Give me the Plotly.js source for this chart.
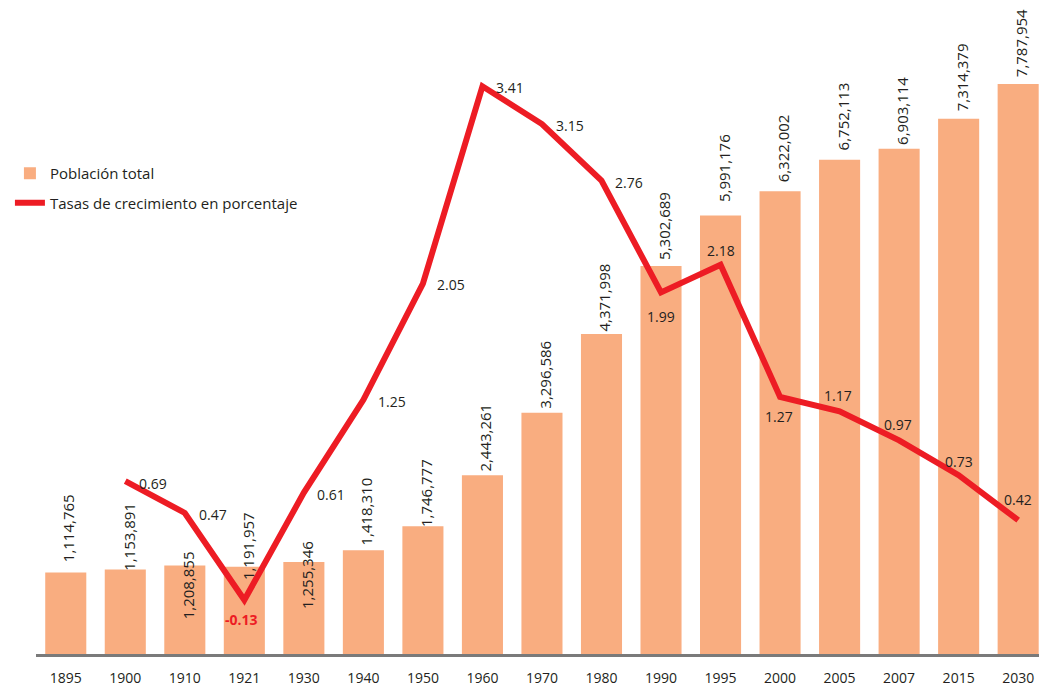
<!DOCTYPE html>
<html>
<head>
<meta charset="utf-8">
<script src="https://cdn.plot.ly/plotly-3.0.1.min.js"></script>
<style>html,body{margin:0;padding:0;background:#fff;}#chart{width:1039px;height:687px;}</style>
</head>
<body>
<div id="chart"></div>
<script>
// ---- data ----
const years = ['1895','1900','1910','1921','1930','1940','1950','1960','1970','1980','1990','1995','2000','2005','2007','2015','2030'];
const population = [1114765,1153891,1208855,1191957,1255346,1418310,1746777,2443261,3296586,4371998,5302689,5991176,6322002,6752113,6903114,7314379,7787954];
const rateYears = ['1900','1910','1921','1930','1940','1950','1960','1970','1980','1990','1995','2000','2005','2007','2015','2030'];
const growthRates = [0.69,0.47,-0.13,0.61,1.25,2.05,3.41,3.15,2.76,1.99,2.18,1.27,1.17,0.97,0.73,0.42];
const barName = 'Población total';
const lineName = 'Tasas de crecimiento en porcentaje';

// ---- label placement (style, not data) ----
const popLabelShift = [10,-1,-54,-13,-47,5,-1,4,4,3,6,13,9,9,4,7,7];
// [anchor, dx, dy(down positive)]
const rateLabelPlace = [
  ['left',14.5,2],['left',15,2],['center',-2.5,19],['left',14,2],['left',15.5,2],['left',15,1],
  ['left',14.5,1],['left',15,1],['left',14.5,2],['center',0,24],['center',0,-14],['center',-1,20],
  ['center',-1.5,-16],['center',-1,-16],['center',0,-14],['center',0,-21]
];

const fmt = n => n.toString().replace(/\B(?=(\d{3})+(?!\d))/g, ',');
const FONT = 'Open Sans, Noto Sans, sans-serif';
const TXT = '#231f20';
const RED = '#ED1C24';

const traces = [
  {type:'bar', x:years, y:population, name:barName, marker:{color:'#F9AD80'},
   legendgroup:'a', hoverinfo:'skip'},
  {type:'scatter', mode:'lines', x:rateYears, y:growthRates, yaxis:'y2', name:lineName,
   line:{color:RED, width:6}, legendgroup:'b', hoverinfo:'skip'}
];

const annotations = [];
years.forEach((yr,i)=>{
  annotations.push({x:years.indexOf(yr), y:population[i], xref:'x', yref:'y', text:fmt(population[i]),
    textangle:-90, showarrow:false, xanchor:'center', yanchor:'bottom',
    xshift:3, yshift:popLabelShift[i]-2, font:{family:FONT, size:15, color:TXT}});
});
rateYears.forEach((yr,i)=>{
  const p = rateLabelPlace[i];
  const neg = growthRates[i] < 0;
  annotations.push({x:years.indexOf(yr), y:growthRates[i], xref:'x', yref:'y2',
    text: neg ? '<b>'+growthRates[i].toFixed(2)+'</b>' : growthRates[i].toFixed(2),
    showarrow:false, xanchor:p[0], yanchor:'middle',
    xshift: p[0]==='left' ? p[1]-3 : p[1], yshift:-p[2],
    font:{family:FONT, size:14, color: neg ? RED : TXT}});
});

const layout = {
  width:1039, height:687,
  margin:{l:36, r:0, t:0, b:33, pad:0},
  paper_bgcolor:'#fff', plot_bgcolor:'#fff',
  bargap:0.31,
  showlegend:true,
  legend:{x:-0.026, xanchor:'left', y:1-157/654, yanchor:'top', bgcolor:'rgba(0,0,0,0)',
    font:{family:FONT, size:15, color:TXT}, tracegroupgap:7, itemwidth:30},
  xaxis:{type:'category', range:[-0.5,16.35], showline:true, linecolor:'#7a7a7a', linewidth:2.5,
    ticks:'outside', ticklen:10, tickcolor:'rgba(0,0,0,0)', showgrid:false, zeroline:false,
    tickfont:{family:FONT, size:14, color:TXT}, fixedrange:true},
  yaxis:{range:[0,8935600], visible:false, showgrid:false, zeroline:false, fixedrange:true},
  yaxis2:{range:[-0.502,4.005], overlaying:'y', visible:false, showgrid:false, zeroline:false, fixedrange:true},
  annotations:annotations
};

Plotly.newPlot('chart', traces, layout, {displayModeBar:false, staticPlot:true});
</script>
</body>
</html>
